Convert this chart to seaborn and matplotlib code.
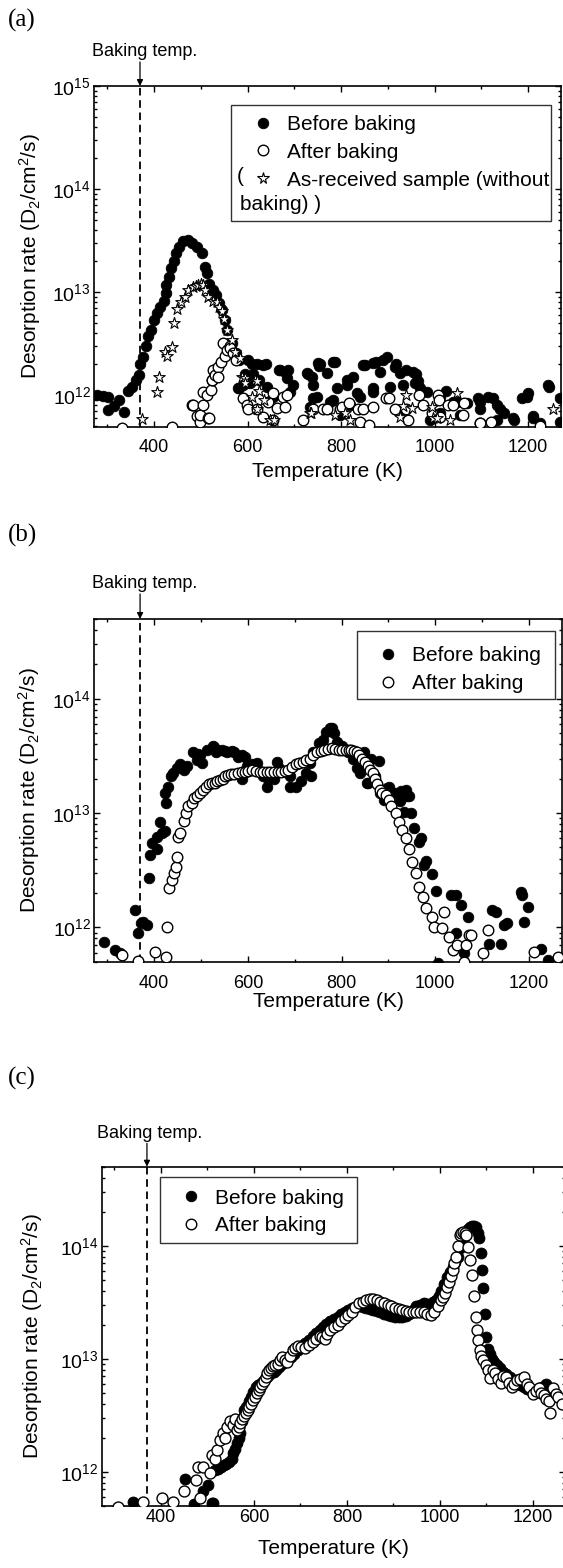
import matplotlib
matplotlib.use("Agg")
import matplotlib.pyplot as plt
import numpy as np
import pandas as pd
import seaborn as sns
from matplotlib.lines import Line2D
from matplotlib.patches import Rectangle
from matplotlib.ticker import LogLocator, MultipleLocator, NullFormatter

# ---------------- data (rates in units of 1e12 D2/cm^2/s) ----------------
UNIT = 1e12
BAKE_T = 370  # K

A_BEFORE_T = [277, 290, 301, 301, 315, 325, 336, 344, 352, 362, 367, 371, 377, 382, 388, 394, 400, 406,
              413, 421, 425, 426, 431, 436, 442, 448, 454, 463, 472, 482, 492, 502, 509, 513, 517, 526,
              532, 539, 546, 552, 557, 567, 575, 580, 582, 582, 590, 595, 602, 605, 609, 612, 621, 625,
              633, 640, 641, 655, 667, 670, 680, 684, 686, 691, 697, 727, 729, 734, 738, 740, 740, 748,
              751, 752, 755, 770, 776, 783, 783, 787, 791, 798, 812, 812, 819, 826, 834, 841, 847, 851,
              869, 869, 869, 875, 883, 890, 898, 905, 915, 917, 926, 933, 933, 940, 954, 958, 960, 964,
              969, 984, 990, 1012, 1012, 1025, 1040, 1048, 1054, 1069, 1094, 1097, 1097, 1114, 1125,
              1133, 1133, 1140, 1148, 1168, 1171, 1187, 1198, 1199, 1210, 1211, 1225, 1243, 1245, 1268, 1268]
A_BEFORE_R = [1.00, 0.98, 0.96, 0.71, 0.77, 0.89, 0.68, 1.08, 1.20, 1.40, 1.56, 2.00, 2.35, 2.95, 3.70, 4.30,
              5.30, 6.20, 7.20, 8.10, 9.70, 11.7, 14.0, 17.0, 19.8, 24.0, 27.5, 31.0, 32.0, 29.7, 27.5,
              24.0, 17.6, 15.2, 12.0, 10.5, 9.40, 7.80, 6.70, 5.35, 4.30, 3.17, 2.54, 1.17, 2.19, 1.16,
              1.25, 1.60, 2.20, 1.30, 2.00, 1.60, 2.00, 1.40, 1.95, 2.00, 1.20, 0.96, 1.75, 1.75, 1.67,
              1.46, 1.75, 1.07, 1.25, 1.63, 1.60, 0.76, 1.50, 1.25, 0.93, 0.96, 2.04, 1.90, 2.00, 1.63,
              0.86, 2.10, 0.89, 2.10, 1.17, 0.64, 1.25, 1.40, 0.80, 1.50, 1.05, 0.96, 1.95, 1.95, 2.05,
              1.17, 1.07, 2.10, 1.67, 2.20, 2.35, 1.20, 1.87, 2.00, 1.63, 1.25, 0.72, 1.75, 1.67, 1.30,
              1.60, 1.35, 1.17, 1.07, 0.57, 0.96, 0.67, 1.08, 0.86, 0.86, 0.64, 0.84, 0.93, 0.86, 0.72,
              0.96, 0.93, 0.80, 0.57, 0.72, 0.66, 0.60, 0.57, 0.93, 0.96, 1.04, 0.62, 0.60, 0.53, 1.25,
              1.20, 0.55, 0.93]

A_AFTER_T = [332, 438, 482, 483, 492, 498, 498, 505, 505, 513, 516, 517, 521, 524, 525, 526, 531, 536, 537,
             544, 548, 552, 557, 563, 563, 569, 575, 590, 599, 601, 620, 633, 644, 655, 655, 663, 676, 680,
             684, 719, 741, 762, 770, 798, 802, 816, 837, 841, 848, 859, 869, 897, 902, 915, 940, 943, 967,
             976, 995, 1008, 1010, 1012, 1029, 1040, 1061, 1064, 1097, 1098, 1121, 1225]
A_AFTER_R = [0.48, 0.49, 0.80, 0.80, 0.62, 0.55, 0.64, 0.80, 1.07, 1.00, 0.60, 0.59, 1.12, 1.40, 1.40, 1.75,
             1.56, 1.88, 1.50, 2.10, 3.20, 2.36, 2.73, 2.95, 2.86, 2.55, 2.20, 0.93, 0.80, 0.72, 0.72, 0.61,
             0.86, 1.04, 0.57, 0.75, 0.96, 0.76, 1.00, 0.57, 0.72, 0.72, 0.72, 0.72, 0.76, 0.84, 0.72, 0.55,
             0.72, 0.51, 0.76, 0.93, 0.93, 0.72, 0.72, 0.57, 1.00, 0.80, 0.67, 1.00, 0.89, 0.61, 0.80, 0.80,
             0.64, 0.83, 0.53, 0.53, 0.55, 0.50]

A_STAR_T = [374, 406, 411, 424, 428, 438, 443, 450, 457, 466, 473, 484, 490, 495, 500, 505, 510, 516, 527,
            534, 540, 545, 550, 556, 566, 573, 584, 588, 594, 595, 609, 617, 620, 620, 625, 636, 648, 656,
            734, 736, 787, 808, 819, 926, 933, 940, 951, 995, 997, 1006, 1033, 1048, 1254]
A_STAR_R = [0.58, 1.06, 1.48, 2.63, 2.39, 2.94, 4.97, 6.8, 8.05, 9.0, 10.5, 11.1, 11.5, 11.7, 11.8, 11.7,
            10.5, 9.0, 8.2, 8.05, 7.2, 6.45, 5.5, 4.27, 3.42, 2.63, 2.27, 1.5, 1.45, 1.3, 0.96, 1.4, 1.35,
            0.72, 1.08, 0.89, 0.57, 0.57, 0.67, 0.66, 0.64, 0.67, 0.57, 0.61, 0.77, 1.0, 0.75, 0.76, 0.6,
            0.6, 0.57, 1.04, 0.72]

B_BEFORE_T = [292, 317, 328, 359, 366, 372, 377, 384, 388, 391, 395, 406, 406, 413, 416, 423, 423, 426, 430,
              437, 441, 448, 455, 463, 470, 482, 491, 494, 498, 502, 513, 525, 527, 532, 534, 544, 552, 555,
              567, 570, 579, 588, 588, 594, 598, 609, 620, 621, 633, 640, 644, 656, 662, 667, 679, 690, 691,
              702, 713, 725, 733, 734, 740, 752, 760, 767, 775, 780, 783, 790, 802, 813, 825, 833, 840, 848,
              855, 856, 863, 871, 879, 883, 890, 898, 902, 914, 925, 926, 933, 937, 940, 944, 948, 955, 966,
              969, 976, 980, 994, 1001, 1005, 1033, 1044, 1044, 1054, 1062, 1069, 1115, 1122, 1129, 1140,
              1147, 1154, 1183, 1186, 1190, 1197, 1226, 1240]
B_BEFORE_R = [0.75, 0.63, 0.59, 1.42, 0.89, 1.08, 1.12, 1.05, 2.7, 4.3, 5.5, 4.8, 6.2, 8.4, 6.7, 6.9, 15.0,
              12.2, 17.0, 21.0, 22.5, 25.0, 27.0, 24.0, 26.0, 34.0, 29.0, 33.0, 32.0, 27.5, 36.0, 38.5,
              38.0, 34.0, 36.0, 36.0, 35.0, 34.0, 35.0, 34.0, 31.0, 32.0, 20.0, 31.0, 26.0, 27.0, 27.5,
              24.0, 21.0, 17.0, 20.0, 20.0, 28.0, 25.0, 23.0, 21.0, 17.0, 17.0, 19.0, 22.5, 27.5, 21.0,
              34.0, 41.0, 44.0, 51.0, 56.0, 56.0, 50.0, 42.0, 38.5, 34.0, 30.0, 25.0, 22.5, 34.0, 18.4,
              18.5, 30.0, 21.0, 28.5, 15.0, 13.0, 16.5, 17.0, 15.0, 12.7, 15.5, 10.3, 16.0, 14.0, 14.0,
              10.0, 7.4, 5.6, 6.0, 3.5, 3.8, 2.9, 2.1, 0.49, 1.92, 1.92, 0.89, 1.57, 0.59, 1.24, 0.72, 1.42,
              1.37, 0.72, 1.05, 1.08, 2.05, 1.92, 1.12, 1.52, 0.65, 0.52]

B_AFTER_T = [331, 365, 401, 425, 428, 432, 438, 443, 446, 449, 451, 455, 463, 468, 472, 480, 486, 492, 498,
             505, 511, 517, 523, 529, 535, 540, 546, 552, 558, 563, 571, 579, 587, 594, 601, 609, 617, 625,
             633, 640, 648, 656, 664, 671, 679, 686, 694, 702, 710, 717, 725, 733, 740, 748, 756, 763, 771,
             779, 786, 794, 802, 810, 815, 821, 827, 833, 838, 844, 850, 856, 861, 867, 871, 875, 883, 887,
             894, 901, 905, 916, 923, 930, 937, 944, 951, 959, 966, 973, 980, 994, 998, 1015, 1019, 1029,
             1037, 1047, 1062, 1065, 1072, 1076, 1101, 1112, 1211, 1261]
B_AFTER_R = [0.57, 0.51, 0.61, 0.55, 1.0, 2.2, 2.6, 3.0, 3.4, 4.1, 6.2, 6.7, 8.5, 10.0, 11.5, 12.3, 13.5,
             14.2, 15.0, 16.0, 17.0, 18.0, 18.2, 18.5, 19.0, 19.5, 20.0, 21.0, 21.5, 22.0, 22.0, 22.5, 22.8,
             23.0, 23.5, 24.0, 23.5, 23.0, 23.0, 23.0, 23.0, 23.0, 23.0, 23.0, 23.5, 24.0, 25.5, 27.0, 27.5,
             28.0, 29.0, 30.0, 32.0, 34.0, 35.0, 36.0, 36.5, 37.0, 36.5, 36.0, 36.0, 36.0, 36.0, 36.0, 35.0,
             34.0, 32.0, 30.0, 28.0, 26.0, 24.0, 22.5, 20.0, 18.0, 16.0, 15.0, 14.5, 13.0, 11.5, 10.0, 8.4,
             7.1, 6.0, 4.8, 3.76, 2.97, 2.27, 1.86, 1.47, 1.24, 1.0, 0.98, 1.37, 0.83, 0.63, 0.7, 0.5, 0.7,
             0.86, 0.86, 0.59, 0.95, 0.61, 0.55]

C_BEFORE_T = [340, 452, 471, 490, 502, 510, 513, 517, 523, 529, 535, 540, 546, 552, 556, 560, 564, 568, 571,
              575, 579, 583, 587, 590, 594, 599, 604, 609, 614, 620, 625, 631, 637, 643, 648, 654, 660, 666,
              672, 680, 687, 695, 702, 710, 718, 726, 733, 741, 749, 756, 764, 772, 780, 788, 795, 803, 810,
              818, 826, 834, 841, 849, 857, 865, 872, 880, 888, 895, 903, 911, 919, 926, 934, 941, 949, 957,
              965, 972, 980, 986, 992, 998, 1003, 1009, 1015, 1021, 1027, 1032, 1038, 1044, 1050, 1055,
              1061, 1065, 1069, 1073, 1077, 1081, 1084, 1088, 1090, 1092, 1096, 1100, 1104, 1108, 1111,
              1117, 1123, 1129, 1135, 1142, 1150, 1157, 1165, 1173, 1181, 1188, 1196, 1204, 1212, 1220,
              1227, 1235, 1243, 1250, 1258]
C_BEFORE_R = [0.54, 0.86, 0.52, 0.67, 0.76, 0.53, 0.53, 1.03, 1.05, 1.1, 1.15, 1.18, 1.22, 1.3, 1.45, 1.6,
              1.8, 2.0, 2.2, 2.8, 3.5, 3.7, 3.9, 4.2, 4.6, 5.1, 5.65, 5.8, 6.0, 6.4, 6.7, 7.0, 7.4, 7.7, 8.0,
              8.5, 9.0, 9.4, 9.7, 10.3, 11.0, 12.0, 13.0, 13.7, 14.5, 15.8, 17.0, 18.0, 19.0, 20.2, 21.5,
              22.5, 23.5, 24.8, 26.0, 27.0, 28.0, 28.5, 29.0, 28.5, 28.0, 27.5, 27.0, 26.5, 26.0, 25.0, 24.5,
              24.0, 23.5, 23.5, 23.5, 24.0, 25.0, 27.0, 29.0, 30.0, 31.0, 30.5, 30.0, 31.5, 33.0, 36.0, 40.0,
              46.0, 53.0, 59.0, 65.0, 72.0, 80.0, 95.0, 110.0, 125.0, 140.0, 147.0, 150.0, 150.0, 145.0,
              130.0, 117.0, 86.0, 61.0, 42.0, 25.0, 15.7, 12.3, 11.0, 10.0, 9.3, 8.8, 8.2, 7.7, 7.3, 6.9,
              6.5, 6.25, 5.9, 5.65, 5.4, 5.3, 5.2, 5.3, 5.6, 6.0, 5.3, 4.9, 4.7, 4.5]

C_AFTER_T = [307, 361, 402, 425, 450, 475, 479, 483, 490, 506, 510, 516, 521, 527, 534, 538, 542, 548, 554,
             560, 564, 568, 571, 575, 579, 583, 587, 590, 594, 598, 602, 606, 610, 614, 618, 622, 625, 629,
             633, 637, 641, 646, 652, 656, 660, 666, 672, 677, 683, 689, 695, 702, 710, 718, 726, 733, 741,
             747, 753, 758, 764, 772, 780, 788, 795, 803, 810, 818, 826, 834, 841, 849, 857, 865, 872, 880,
             888, 895, 903, 911, 919, 926, 934, 941, 949, 957, 965, 972, 980, 988, 996, 1003, 1007, 1011,
             1015, 1019, 1023, 1027, 1031, 1034, 1038, 1042, 1046, 1050, 1054, 1057, 1061, 1065, 1069,
             1073, 1077, 1079, 1081, 1085, 1088, 1092, 1098, 1104, 1108, 1113, 1119, 1125, 1131, 1136,
             1142, 1148, 1154, 1160, 1165, 1173, 1181, 1187, 1192, 1200, 1206, 1212, 1218, 1223, 1229,
             1235, 1237, 1243, 1249, 1254, 1262]
C_AFTER_R = [0.49, 0.54, 0.58, 0.54, 0.67, 0.84, 1.1, 0.58, 1.1, 0.97, 1.4, 1.3, 1.55, 1.9, 2.2, 2.0, 2.5,
             2.8, 2.6, 2.9, 2.35, 2.5, 2.7, 2.9, 3.1, 3.3, 3.5, 3.7, 4.0, 4.3, 4.6, 5.0, 5.3, 5.6, 6.0, 6.4,
             6.9, 7.4, 7.9, 8.3, 8.7, 8.8, 9.0, 9.7, 10.3, 9.8, 9.3, 10.5, 12.0, 12.5, 13.0, 12.8, 12.5,
             13.2, 14.0, 15.0, 16.0, 15.5, 15.0, 16.5, 18.0, 19.0, 20.0, 21.5, 23.0, 24.5, 26.0, 28.5,
             31.0, 32.0, 33.0, 33.5, 33.5, 33.0, 32.0, 31.0, 30.0, 29.0, 28.0, 27.5, 27.0, 26.5, 26.0, 26.0,
             26.0, 26.0, 26.0, 25.0, 24.5, 26.0, 29.0, 33.0, 35.0, 38.0, 43.0, 48.0, 54.0, 61.0, 70.0,
             80.0, 100.0, 124.0, 130.0, 133.0, 130.0, 124.0, 98.0, 75.0, 55.0, 36.0, 23.5, 18.0, 14.5,
             12.0, 10.5, 9.7, 8.8, 7.9, 6.7, 8.0, 7.4, 6.6, 6.05, 7.0, 6.9, 6.1, 5.65, 6.0, 6.45, 6.6, 6.9,
             6.0, 5.65, 4.9, 5.2, 5.45, 5.0, 4.75, 4.4, 4.2, 3.3, 5.45, 4.9, 4.6, 4.0]

LABEL_BEFORE = "Before baking"
LABEL_AFTER = "After baking"
LABEL_STAR = "As-received sample (without"
YLABEL = "Desorption rate (D$_2$/cm$^2$/s)"
XLABEL = "Temperature (K)"

# ---------------- style ----------------
sns.set_theme(style="ticks")
plt.rcParams.update({
    "mathtext.fontset": "custom",
    "mathtext.rm": "Liberation Sans",
    "mathtext.it": "Liberation Sans:italic",
    "mathtext.bf": "Liberation Sans:bold",
    "axes.edgecolor": "black",
    "axes.linewidth": 1.2,
    "text.color": "black",
    "axes.labelcolor": "black",
    "xtick.color": "black",
    "ytick.color": "black",
})
plt.rcParams["font.family"] = ["Liberation Sans", "DejaVu Sans"]

W, H = 563, 1568
fig = plt.figure(figsize=(W / 100, H / 100), dpi=100)


def rect_px(l, t, r, b):
    return [l / W, 1 - b / H, (r - l) / W, (b - t) / H]


PANELS = [
    dict(tag="(a)", tag_y=20, box=(94.4, 86, 561, 426.7), xlim=(272.5, 1270.5), ylim=(10 ** 11.69, 1e15),
         series=[("before", A_BEFORE_T, A_BEFORE_R), ("after", A_AFTER_T, A_AFTER_R),
                 ("star", A_STAR_T, A_STAR_R)],
         leg_frame=(231.3, 105, 551, 220.7), leg_marker_x=263, leg_row1=123, star=True,
         bake_text=(144.5, 51.7), arrow_top=62, xlab_y=473, tick_y=448.3, ylab_x=32, size=58),
    dict(tag="(b)", tag_y=535, box=(94.4, 619, 562, 961.7), xlim=(272.5, 1270.5), ylim=(5e11, 5e14),
         series=[("before", B_BEFORE_T, B_BEFORE_R), ("after", B_AFTER_T, B_AFTER_R)],
         leg_frame=(356.6, 631, 554.8, 699), leg_marker_x=388.3, leg_row1=654.3, star=False,
         bake_text=(144.5, 583.3), arrow_top=594, xlab_y=1003, tick_y=983.7, ylab_x=30.6, size=58),
    dict(tag="(c)", tag_y=1078, box=(101.6, 1166.7, 565, 1505.7), xlim=(272.5, 1268.8), ylim=(5e11, 5e14),
         series=[("before", C_BEFORE_T, C_BEFORE_R), ("after", C_AFTER_T, C_AFTER_R)],
         leg_frame=(159.8, 1176.7, 356.6, 1243.3), leg_marker_x=191.4, leg_row1=1196.7, star=False,
         bake_text=(149.9, 1133.3), arrow_top=1143.3, xlab_y=1550, tick_y=1518.3, ylab_x=34.1, size=62),
]

STYLE = {
    "before": dict(marker="o", color="black", edgecolor="black", linewidth=0.6, zorder=3),
    "after": dict(marker="o", color="white", edgecolor="black", linewidth=1.0, zorder=4),
    "star": dict(marker="*", color="white", edgecolor="black", linewidth=0.8, zorder=5),
}

for p in PANELS:
    L, T, R, B = p["box"]
    ax = fig.add_axes(rect_px(L, T, R, B))

    def to_ax(px, py):
        return (px - L) / (R - L), (B - py) / (B - T)

    for kind, xs, ys in p["series"]:
        df = pd.DataFrame({"T": xs, "R": np.asarray(ys) * UNIT})
        st = STYLE[kind]
        s = p["size"] if kind != "star" else 75
        sns.scatterplot(data=df, x="T", y="R", ax=ax, s=s, legend=False, clip_on=True, **st)

    ax.set_yscale("log")
    ax.set_xlim(*p["xlim"])
    ax.set_ylim(*p["ylim"])
    ax.xaxis.set_major_locator(MultipleLocator(200))
    ax.xaxis.set_minor_locator(MultipleLocator(100))
    ax.yaxis.set_major_locator(LogLocator(base=10, numticks=10))
    ax.yaxis.set_minor_locator(LogLocator(base=10, subs=np.arange(2, 10), numticks=30))
    ax.yaxis.set_minor_formatter(NullFormatter())

    # tick label padding from measured positions
    x_pad_px = (p["tick_y"] - B) - 9
    ax.tick_params(which="both", direction="in", top=True, right=True, width=1.0)
    ax.tick_params(which="major", length=4.5)
    ax.tick_params(which="minor", length=2.5)
    ax.tick_params(axis="x", labelsize=13, pad=x_pad_px * 0.72)
    ax.tick_params(axis="y", labelsize=14, pad=2.5)
    for sp in ax.spines.values():
        sp.set_linewidth(1.2)
        sp.set_color("black")

    ax.set_xlabel(XLABEL, fontsize=15)
    ax.set_ylabel(YLABEL, fontsize=15)
    ax.xaxis.set_label_coords(0.5, (B - (p["xlab_y"] - 11)) / (B - T))
    ax.yaxis.set_label_coords((p["ylab_x"] + 11 - L) / (R - L), 0.5)

    # baking temperature marker
    ax.axvline(BAKE_T, color="black", lw=1.3, ls=(0, (4.2, 2.6)), zorder=2)
    ax.annotate("", xy=(BAKE_T, 1.0), xycoords=("data", "axes fraction"),
                xytext=(BAKE_T, to_ax(0, p["arrow_top"])[1]), textcoords=("data", "axes fraction"),
                arrowprops=dict(arrowstyle="-|>", color="black", lw=0.9, mutation_scale=9,
                                shrinkA=0, shrinkB=0), annotation_clip=False)
    bx, by = to_ax(*p["bake_text"])
    ax.text(bx, by, "Baking temp.", transform=ax.transAxes, ha="center", va="center", fontsize=13)

    # legend frame + entries
    fx0, fy1 = to_ax(p["leg_frame"][0], p["leg_frame"][1])
    fx1, fy0 = to_ax(p["leg_frame"][2], p["leg_frame"][3])
    ax.add_patch(Rectangle((fx0, fy0), fx1 - fx0, fy1 - fy0, transform=ax.transAxes, facecolor="white",
                           edgecolor="#333333", lw=1.0, zorder=6, clip_on=False))
    handles = [Line2D([], [], ls="none", marker="o", markersize=7.6, markerfacecolor="black",
                      markeredgecolor="black", markeredgewidth=0.6),
               Line2D([], [], ls="none", marker="o", markersize=7.6, markerfacecolor="white",
                      markeredgecolor="black", markeredgewidth=1.0)]
    labels = [LABEL_BEFORE, LABEL_AFTER]
    if p["star"]:
        handles.append(Line2D([], [], ls="none", marker="*", markersize=8.5, markerfacecolor="white",
                              markeredgecolor="black", markeredgewidth=0.8))
        labels.append(LABEL_STAR)
    fs = 15
    em = fs * 100 / 72
    hl = 0.8
    ax_x, _ = to_ax(p["leg_marker_x"] - hl * em / 2, 0)
    _, ax_y = to_ax(0, p["leg_row1"] - 8)
    leg = ax.legend(handles, labels, loc="upper left", bbox_to_anchor=(ax_x, ax_y),
                    bbox_transform=ax.transAxes, frameon=False, borderpad=0, borderaxespad=0,
                    handlelength=hl, handletextpad=0.75, labelspacing=0.42, fontsize=fs)
    leg.set_zorder(7)
    if p["star"]:
        ox, oy = to_ax(240.6, 177)
        ax.text(ox, oy, "(", transform=ax.transAxes, ha="center", va="center", fontsize=fs, zorder=8)
        ox, oy = to_ax(239.5, 204)
        ax.text(ox, oy, "baking) )", transform=ax.transAxes, ha="left", va="center", fontsize=fs, zorder=8)

    fig.text(8 / W, 1 - p["tag_y"] / H, p["tag"], ha="left", va="center", fontsize=18,
             family="Liberation Serif")

fig.savefig("out.png", dpi=100)
